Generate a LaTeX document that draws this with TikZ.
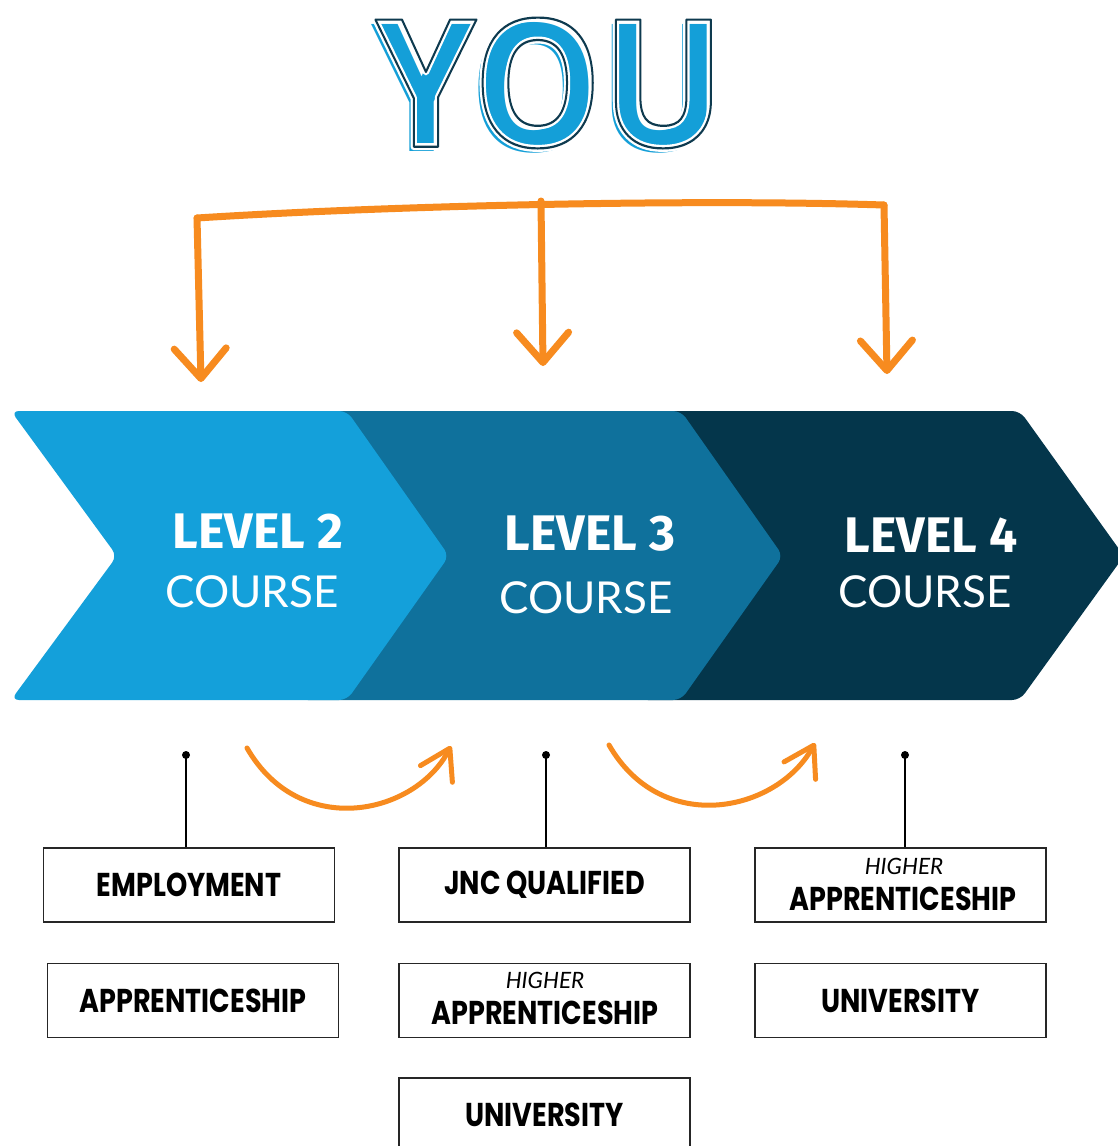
\documentclass[tikz,border=0pt]{standalone}
\usepackage{fontspec}
\usepackage{graphicx}
\setmainfont{Fira Sans}
\newfontfamily\youfont{Open Sans}
\newfontfamily\lightfont{Lato}
\newfontfamily\heavyfont{Poppins}
\usetikzlibrary{arrows.meta}
\definecolor{youblue}{HTML}{149FD8}
\definecolor{youdark}{HTML}{0E3A4F}
\definecolor{chA}{HTML}{14A0DA}
\definecolor{chB}{HTML}{0F719C}
\definecolor{chC}{HTML}{04364B}
\definecolor{arrorange}{HTML}{F78B1F}
\definecolor{boxline}{HTML}{262626}
\newcommand\strokeon[1]{\special{pdf:literal direct 1 Tr #1 w 1 j}}
\newcommand\strokeoff{\special{pdf:literal direct 0 Tr}}
\newcommand\optxt[1]{\scalebox{0.82}[1]{#1}}
\begin{document}
\begin{tikzpicture}[x=1pt,y=-1pt,
  chev/.style={rounded corners=8pt},
  youtext/.style={font=\youfont\bfseries\fontsize{178}{178}\selectfont,inner sep=0},
  lvl/.style={text=white,font=\bfseries\fontsize{50}{50}\selectfont,inner sep=0},
  crs/.style={text=white,font=\lightfont\fontsize{44}{44}\selectfont,inner sep=0},
  optbox/.style={draw=boxline,line width=1.6pt,minimum width=291pt,minimum height=74pt,inner sep=0,
    font=\heavyfont\bfseries\fontsize{33}{33}\selectfont},
  opt/.style={font=\heavyfont\bfseries\fontsize{33}{33}\selectfont,inner sep=0},
  hi/.style={font=\lightfont\itshape\fontsize{22.5}{22.5}\selectfont,inner sep=0},
  bigarr/.style={draw=arrorange,line width=7pt,line cap=round,line join=round},
  smallarr/.style={draw=arrorange,line width=5pt,line cap=round,line join=round,
    -{Straight Barb[length=29pt,width=36pt,round]}},
  dot/.style={circle,fill=black,inner sep=0,minimum size=8pt},
  link/.style={draw=black,line width=1.5pt}
]
\useasboundingbox (0,0) rectangle (1118,1146);
\fill[white] (0,0) rectangle (1118,1146);

% YOU: blue fill shifted down-left, white halo, dark outline
\node[youtext] (you) at (550,83) {\scalebox{0.91}[1]{%
  \rlap{\smash{\hspace*{-4pt}\raisebox{-5pt}{\color{youblue}YOU}}}%
  \rlap{\smash{\color{white}\strokeon{7}YOU\strokeoff}}%
  {\color{youdark}\strokeon{2.2}YOU\strokeoff}}};

% top bracket
\coordinate (bl) at (197,218);
\coordinate (bm) at (541,201);
\coordinate (br) at (884,205);
\coordinate (tl) at (201,382);
\coordinate (tm) at (543,366);
\coordinate (tr) at (887,374);
\draw[bigarr] (bl) .. controls (400,205) and (700,199) .. (br);
\draw[bigarr,-{Straight Barb[length=30pt,width=52pt,round]}] (bl) -- (tl);
\draw[bigarr,-{Straight Barb[length=30pt,width=52pt,round]}] (bm) -- (tm);
\draw[bigarr,-{Straight Barb[length=30pt,width=52pt,round]}] (br) -- (tr);

% chevrons (each one's hidden left part lies under the previous one)
\fill[chC,chev] (640,411) -- (1020,411) -- (1124,556) -- (1020,700) -- (640,700) -- cycle;
\fill[chB,chev] (300,411) -- (681,411) -- (783,556) -- (681,700) -- (300,700) -- cycle;
\fill[chA,chev] (11,411) -- (347,411) -- (449,556) -- (347,700) -- (11,700) -- (117,556) -- cycle;

\node[lvl] (l2) at (258,531) {LEVEL 2};
\node[crs] (c2t) at (252,592) {COURSE};
\node[lvl] (l3) at (590,534) {LEVEL 3};
\node[crs] (c3t) at (586,598) {COURSE};
\node[lvl] (l4) at (931,535) {LEVEL 4};
\node[crs] (c4t) at (925,592) {COURSE};

% small curved arrows
\coordinate (s1) at (247,748);
\coordinate (e1) at (451,746);
\coordinate (s2) at (609,745);
\coordinate (e2) at (815,743);
\draw[smallarr] (s1) .. controls (300,840) and (415,815) .. (e1);
\draw[smallarr] (s2) .. controls (662,837) and (777,812) .. (e2);

% option boxes
\node[optbox] (emp) at (189,885) {\optxt{EMPLOYMENT}};
\node[optbox] (app) at (193,1000.5) {\optxt{APPRENTICESHIP}};
\node[optbox] (jnc) at (544.5,885) {\optxt{JNC QUALIFIED}};
\node[optbox] (hap3) at (544.5,1000.5) {};
\node[optbox] (uni3) at (544.5,1115) {\optxt{UNIVERSITY}};
\node[optbox] (hap4) at (900.5,885) {};
\node[optbox] (uni4) at (900.5,1000.5) {\optxt{UNIVERSITY}};

\node[hi] (hi3) at (545,980) {HIGHER};
\node[opt] (ap3) at (545,1013) {\optxt{APPRENTICESHIP}};
\node[hi] (hi4) at (904,866) {HIGHER};
\node[opt] (ap4) at (903,899) {\optxt{APPRENTICESHIP}};

% dots and links
\node[dot] (d2) at (186,755) {};
\node[dot] (d3) at (546,755) {};
\node[dot] (d4) at (905,755) {};
\draw[link] (d2.center) -- (d2.center |- emp.north);
\draw[link] (d3.center) -- (d3.center |- jnc.north);
\draw[link] (d4.center) -- (d4.center |- hap4.north);
\end{tikzpicture}
\end{document}
